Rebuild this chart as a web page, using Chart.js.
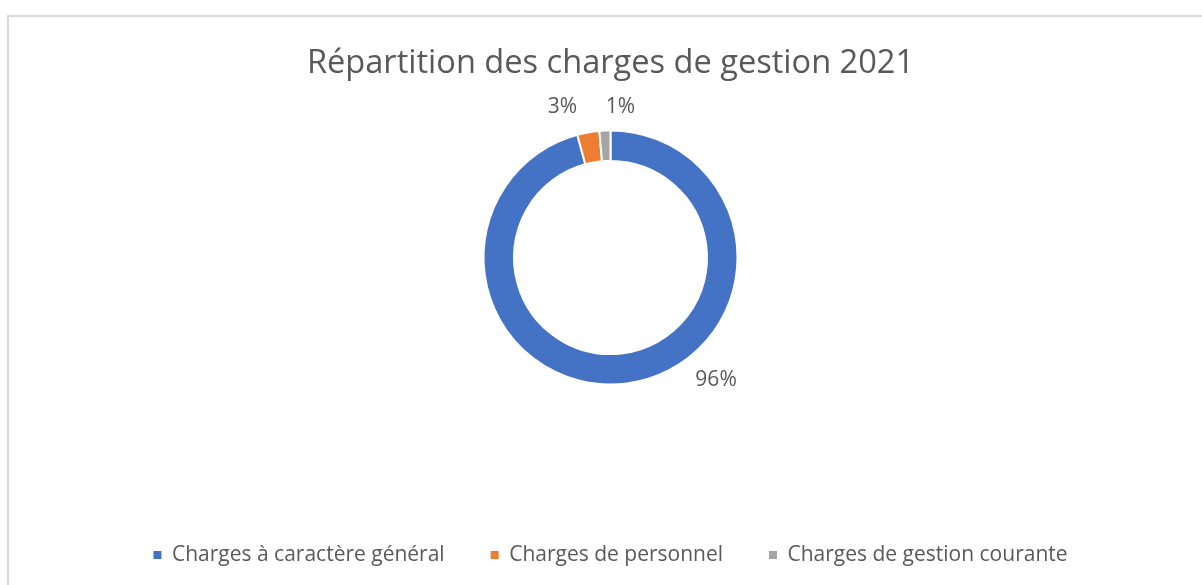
<!DOCTYPE html>
<html lang="fr">
<head>
<meta charset="utf-8">
<script src="https://cdn.jsdelivr.net/npm/chart.js@4.4.1/dist/chart.umd.min.js"></script>
<style>
  html, body { margin: 0; padding: 0; background: #ffffff; }
  body { width: 1202px; height: 585px; position: relative; overflow: hidden; }
  #frame { position: absolute; left: 7px; top: 15px; width: 1400px; height: 800px;
           border: 2px solid #d9d9d9; box-sizing: border-box; }
  #wrap { position: absolute; left: 0; top: 0; width: 1202px; height: 585px; }
</style>
</head>
<body>
<div id="frame"></div>
<div id="wrap"><canvas id="c" width="1202" height="585"></canvas></div>
<script>
// ---- data ----
const chartTitle = "Répartition des charges de gestion 2021";
const categories = ["Charges à caractère général", "Charges de personnel", "Charges de gestion courante"];
const shares = [95.8, 2.8, 1.4];
const sliceColors = ["#4472C4", "#ED7D31", "#A5A5A5"];

// ---- style ----
const FONT = "'Open Sans', 'Noto Sans', sans-serif";
const TEXT = "#595959";
const labelAngleShift = [-33.1, -7.6, 6.3];   // degrees, relative to slice middle
const labelGap = [35, 31, 24];                 // px beyond outer radius

const dataLabels = {
  id: 'dataLabels',
  afterDatasetsDraw(chart) {
    const meta = chart.getDatasetMeta(0);
    const ds = chart.data.datasets[0].data;
    const total = ds.reduce((a, b) => a + b, 0);
    const ctx = chart.ctx;
    ctx.save();
    ctx.font = "21px " + FONT;
    ctx.fillStyle = TEXT;
    ctx.textAlign = 'center';
    ctx.textBaseline = 'middle';
    meta.data.forEach((arc, i) => {
      const p = arc.getProps(['x', 'y', 'startAngle', 'endAngle', 'outerRadius'], true);
      const a = (p.startAngle + p.endAngle) / 2 + labelAngleShift[i] * Math.PI / 180;
      const r = p.outerRadius + labelGap[i];
      const txt = Math.round(ds[i] / total * 100) + '%';
      ctx.fillText(txt, p.x + Math.cos(a) * r, p.y + Math.sin(a) * r);
    });
    ctx.restore();
  }
};

new Chart(document.getElementById('c'), {
  type: 'doughnut',
  data: {
    labels: categories,
    datasets: [{
      data: shares,
      backgroundColor: sliceColors,
      borderColor: '#ffffff',
      borderWidth: 2,
      hoverOffset: 0
    }]
  },
  options: {
    responsive: false,
    animation: false,
    cutout: '76%',
    rotation: 0,
    layout: { padding: { top: 0, left: 19, right: 0, bottom: 9.5 } },
    events: [],
    plugins: {
      tooltip: { enabled: false },
      title: {
        display: true,
        text: chartTitle,
        color: TEXT,
        font: { family: FONT, size: 32.6, weight: 'normal', lineHeight: 1.2 },
        padding: { top: 44, bottom: 46.38 }
      },
      legend: {
        position: 'bottom',
        title: { display: true, text: '', font: { size: 12, lineHeight: 1.2 }, padding: { top: 98.6, bottom: 0 } },
        labels: {
          boxWidth: 8,
          boxHeight: 8,
          padding: 46,
          color: TEXT,
          font: { family: FONT, size: 21 },
          generateLabels(chart) {
            const base = Chart.overrides.doughnut.plugins.legend.labels.generateLabels(chart);
            return base.map(it => Object.assign(it, { lineWidth: 0, strokeStyle: 'rgba(0,0,0,0)' }));
          }
        }
      }
    }
  },
  plugins: [dataLabels]
});
</script>
</body>
</html>
